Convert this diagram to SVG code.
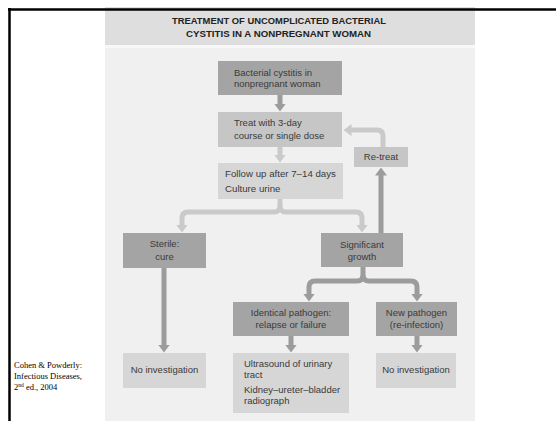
<svg xmlns="http://www.w3.org/2000/svg" width="556" height="421" viewBox="0 0 556 421">
<defs>
<style>
.t{font-family:"Liberation Sans",Arial,sans-serif;font-size:9.5px;fill:#3a3a3a}
.c{text-anchor:middle}
.title{font-family:"Liberation Sans",Arial,sans-serif;font-size:9.5px;font-weight:bold;fill:#222;text-anchor:middle}
.cite{font-family:"Liberation Serif","Times New Roman",serif;font-size:8.5px;fill:#000}
.dark{fill:#a4a4a4}
.mid{fill:#c6c6c6}
.light{fill:#d6d6d6}
.lm{fill:none;stroke:#9c9c9c;stroke-width:5;stroke-linejoin:round}
.ll{fill:none;stroke:#cacaca;stroke-width:5;stroke-linejoin:round}
</style>
<marker id="am" markerUnits="userSpaceOnUse" markerWidth="8" markerHeight="12" viewBox="0 0 8 12" refX="0.5" refY="6" orient="auto"><path d="M0,0 L8,6 L0,12 Z" fill="#9c9c9c"/></marker>
<marker id="al" markerUnits="userSpaceOnUse" markerWidth="8" markerHeight="12" viewBox="0 0 8 12" refX="0.5" refY="6" orient="auto"><path d="M0,0 L8,6 L0,12 Z" fill="#cacaca"/></marker>
</defs>
<rect x="0" y="0" width="556" height="421" fill="#fff"/>
<g id="panel">
<rect x="105" y="7" width="370" height="414" fill="#f0f0f0"/>
<rect x="105" y="7" width="370" height="38" fill="#dedede"/>
<rect x="105" y="45" width="370" height="3" fill="#f8f8f8"/>
<text class="title" x="279" y="24" textLength="214" lengthAdjust="spacingAndGlyphs">TREATMENT OF UNCOMPLICATED BACTERIAL</text>
<text class="title" x="278.5" y="37" textLength="185" lengthAdjust="spacingAndGlyphs">CYSTITIS IN A NONPREGNANT WOMAN</text>
</g>
<g id="border">
<line x1="8" y1="9.5" x2="556" y2="9.5" stroke="#000" stroke-width="2.5"/>
<line x1="9.5" y1="8" x2="9.5" y2="421" stroke="#000" stroke-width="2.5"/>
</g>
<g id="connectors">
<path class="lm" d="M280,95 V104" marker-end="url(#am)"/>
<path class="ll" d="M280,147 V155" marker-end="url(#al)"/>
<path class="ll" d="M280,199 V206 Q280,212 274,212 H188 Q182,212 182,218 V225" marker-end="url(#al)"/>
<path class="ll" d="M280,206 Q280,212 286,212 H356 Q362,212 362,218 V225" marker-end="url(#al)"/>
<path class="lm" d="M381,233 V175" marker-end="url(#am)"/>
<path class="ll" d="M383,147 V136 Q383,130 377,130 H351" marker-end="url(#al)"/>
<path class="lm" d="M164,268 V345" marker-end="url(#am)"/>
<path class="lm" d="M363,267 V275 Q363,281 357,281 H315 Q309,281 309,287 V294" marker-end="url(#am)"/>
<path class="lm" d="M363,275 Q363,281 369,281 H411 Q417,281 417,287 V294" marker-end="url(#am)"/>
<path class="lm" d="M291,336 V345" marker-end="url(#am)"/>
<path class="lm" d="M417,336 V345" marker-end="url(#am)"/>
</g>
<g id="n1"><rect class="dark" x="218" y="61" width="124" height="34"/>
<text class="t" x="234" y="75.5">Bacterial cystitis in</text><text class="t" x="234" y="86.5">nonpregnant woman</text></g>
<g id="n2"><rect class="mid" x="218" y="112" width="124" height="35"/>
<text class="t" x="234" y="126">Treat with 3-day</text><text class="t" x="234" y="138.5">course or single dose</text></g>
<g id="n3"><rect class="light" x="218" y="163" width="125" height="36"/>
<text class="t" x="225" y="177" style="font-size:9.7px">Follow up after 7–14 days</text><text class="t" x="225" y="191.5" style="font-size:9.7px">Culture urine</text></g>
<g id="retreat"><rect class="mid" x="354" y="147" width="54" height="20"/>
<text class="t c" x="381" y="160">Re-treat</text></g>
<g id="sterile"><rect class="dark" x="123" y="233" width="83" height="35"/>
<text class="t c" x="164.5" y="247">Sterile:</text><text class="t c" x="164.5" y="259.5">cure</text></g>
<g id="growth"><rect class="dark" x="321" y="233" width="82" height="34"/>
<text class="t c" x="362" y="248">Significant</text><text class="t c" x="362" y="260">growth</text></g>
<g id="identical"><rect class="dark" x="233" y="302" width="116" height="34"/>
<text class="t c" x="291" y="316">Identical pathogen:</text><text class="t c" x="291" y="328">relapse or failure</text></g>
<g id="newpath"><rect class="dark" x="376" y="302" width="81" height="34"/>
<text class="t c" x="416.5" y="316">New pathogen</text><text class="t c" x="416.5" y="328">(re-infection)</text></g>
<g id="noinv1"><rect class="light" x="123" y="353" width="83" height="35"/>
<text class="t c" x="164.5" y="373">No investigation</text></g>
<g id="ultra"><rect class="light" x="233" y="353" width="116" height="60"/>
<text class="t" x="244" y="367">Ultrasound of urinary</text><text class="t" x="244" y="378">tract</text>
<text class="t" x="244" y="393">Kidney–ureter–bladder</text><text class="t" x="244" y="403.5">radiograph</text></g>
<g id="noinv2"><rect class="light" x="376" y="353" width="80" height="35"/>
<text class="t c" x="416" y="372.5">No investigation</text></g>
<g id="citation">
<text class="cite" x="14" y="368">Cohen &amp; Powderly:</text>
<text class="cite" x="14" y="379">Infectious Diseases,</text>
<text class="cite" x="14" y="390">2<tspan font-size="5.5" dy="-3">nd</tspan><tspan dy="3"> ed., 2004</tspan></text>
</g>
</svg>
